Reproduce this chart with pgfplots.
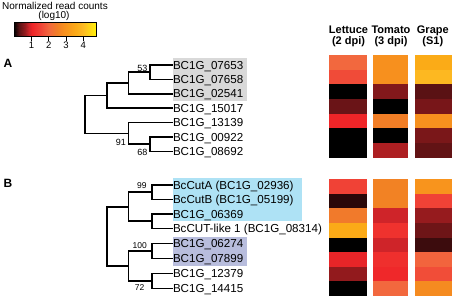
\documentclass[border=0pt]{standalone}
\usepackage{fontspec}
\setmainfont{Liberation Sans}
\usepackage{pgfplots}
\pgfplotsset{compat=1.18}
\usepackage{pgfplotstable}
\definecolor{boxgrey}{RGB}{217,217,217}
\definecolor{boxblue}{RGB}{174,226,245}
\definecolor{boxlav}{RGB}{184,189,221}
\pgfdeclareplotmark{cellL}{\pgfpathrectangle{\pgfpoint{-18.85pt}{-7.45pt}}{\pgfpoint{37.7pt}{14.9pt}}\pgfusepathqfill}
\pgfdeclareplotmark{cellT}{\pgfpathrectangle{\pgfpoint{-17.6pt}{-7.45pt}}{\pgfpoint{35.2pt}{14.9pt}}\pgfusepathqfill}
\pgfdeclareplotmark{cellG}{\pgfpathrectangle{\pgfpoint{-18.65pt}{-7.45pt}}{\pgfpoint{37.3pt}{14.9pt}}\pgfusepathqfill}
\newcommand\genefont{\fontsize{11.6}{13}\selectfont}
\newcommand\bootA{\fontsize{9}{10}\selectfont}
\newcommand\bootB{\fontsize{8.5}{10}\selectfont}
\newcommand\headfont{\fontsize{11}{12}\selectfont\bfseries}

\pgfplotstableread{
y L T G
62.6 2.0 2.9 3.6
77.2 1.62 2.9 3.95
91.8 0 0.5 0.3
106.4 0.38 0 0.45
121.0 1.05 2.5 2.9
135.6 0 0 0.46
150.2 0 0.7 0.34
}\heatA

\pgfplotstableread{
y L T G
186.6 1.5 2.6 3.0
201.2 0.14 2.6 1.5
215.8 2.4 0.85 0.6
230.4 3.58 1.25 0.4
245.0 0 0.85 0.2
259.6 1.0 1.2 1.95
274.2 0.58 1.1 1.65
288.8 0 2.0 2.8
}\heatB

\begin{document}
\begin{tikzpicture}
\useasboundingbox (0,0) rectangle (454pt,298pt);
\begin{axis}[at={(0,0)},anchor=south west,width=454pt,height=298pt,scale only axis,
  xmin=0,xmax=454,ymin=0,ymax=298,y dir=reverse,hide axis,clip=false,
  colormap={heat}{rgb255(0pt)=(0,0,0); rgb255(30pt)=(90,18,20); rgb255(60pt)=(150,27,30); rgb255(85pt)=(207,36,41); rgb255(105pt)=(239,37,40); rgb255(150pt)=(240,66,54); rgb255(200pt)=(242,104,62); rgb255(250pt)=(241,126,38); rgb255(290pt)=(247,144,30); rgb255(360pt)=(251,171,23); rgb255(400pt)=(253,186,35); rgb255(475pt)=(255,240,10)},
  point meta min=0, point meta max=4.75]

% highlight boxes
\addplot[fill=boxgrey, draw=none] coordinates {(172.7,58.2)(247.3,58.2)(247.3,100.6)(172.7,100.6)} --cycle;
\addplot[fill=boxblue, draw=none] coordinates {(172.7,177.8)(301.7,177.8)(301.7,220.8)(172.7,220.8)} --cycle;
\addplot[fill=boxlav, draw=none] coordinates {(172.7,236.8)(247.3,236.8)(247.3,265.8)(172.7,265.8)} --cycle;

% colorbar
\addplot[patch, patch type=rectangle, shader=interp, point meta=explicit] table[meta=c] {
x y c
14.2 22 0
19.375 22 0.3
19.375 36.7 0.3
14.2 36.7 0
19.375 22 0.3
24.55 22 0.6
24.55 36.7 0.6
19.375 36.7 0.3
24.55 22 0.6
28.86 22 0.85
28.86 36.7 0.85
24.55 36.7 0.6
28.86 22 0.85
32.31 22 1.05
32.31 36.7 1.05
28.86 36.7 0.85
32.31 22 1.05
40.08 22 1.5
40.08 36.7 1.5
32.31 36.7 1.05
40.08 22 1.5
48.7 22 2.0
48.7 36.7 2.0
40.08 36.7 1.5
48.7 22 2.0
57.33 22 2.5
57.33 36.7 2.5
48.7 36.7 2.0
57.33 22 2.5
64.23 22 2.9
64.23 36.7 2.9
57.33 36.7 2.5
64.23 22 2.9
76.3 22 3.6
76.3 36.7 3.6
64.23 36.7 2.9
76.3 22 3.6
83.2 22 4.0
83.2 36.7 4.0
76.3 36.7 3.6
83.2 22 4.0
96.14 22 4.75
96.14 36.7 4.75
83.2 36.7 4.0
};
\addplot[black, line width=0.8pt] coordinates {(14.2,22)(96.14,22)(96.14,36.7)(14.2,36.7)} --cycle;
\addplot[black, line width=0.8pt] coordinates {(31.45,36.7)(31.45,40.5)};
\addplot[black, line width=0.8pt] coordinates {(48.7,36.7)(48.7,40.5)};
\addplot[black, line width=0.8pt] coordinates {(65.95,36.7)(65.95,40.5)};
\addplot[black, line width=0.8pt] coordinates {(83.2,36.7)(83.2,40.5)};

% heat map
\addplot[scatter, only marks, mark=cellL, scatter/use mapped color={draw=none, fill=mapped color}, point meta=explicit] table[x expr=348.15, y=y, meta=L] {\heatA};
\addplot[scatter, only marks, mark=cellT, scatter/use mapped color={draw=none, fill=mapped color}, point meta=explicit] table[x expr=390.6, y=y, meta=T] {\heatA};
\addplot[scatter, only marks, mark=cellG, scatter/use mapped color={draw=none, fill=mapped color}, point meta=explicit] table[x expr=433.15, y=y, meta=G] {\heatA};
\addplot[scatter, only marks, mark=cellL, scatter/use mapped color={draw=none, fill=mapped color}, point meta=explicit] table[x expr=348.15, y=y, meta=L] {\heatB};
\addplot[scatter, only marks, mark=cellT, scatter/use mapped color={draw=none, fill=mapped color}, point meta=explicit] table[x expr=390.6, y=y, meta=T] {\heatB};
\addplot[scatter, only marks, mark=cellG, scatter/use mapped color={draw=none, fill=mapped color}, point meta=explicit] table[x expr=433.15, y=y, meta=G] {\heatB};

% tree A
\addplot[black, line width=1.6pt, line join=miter] coordinates {(172.7,65)(150,65)(150,79.4)(172.7,79.4)};
\addplot[black, line width=1.6pt, line join=miter] coordinates {(150,72.2)(128.3,72.2)(128.3,93.8)(172.7,93.8)};
\addplot[black, line width=1.6pt, line join=miter] coordinates {(128.3,83.0)(106.7,83.0)(106.7,108.2)(172.7,108.2)};
\addplot[black, line width=1.6pt, line join=miter] coordinates {(172.7,137)(150,137)(150,151.4)(172.7,151.4)};
\addplot[black, line width=1.6pt, line join=miter] coordinates {(172.7,122.6)(128.3,122.6)(128.3,144.2)(150,144.2)};
\addplot[black, line width=1.6pt, line join=miter] coordinates {(106.7,95.6)(85,95.6)(85,133.4)(128.3,133.4)};

% tree B
\addplot[black, line width=1.6pt, line join=miter] coordinates {(172.7,185)(151.7,185)(151.7,199.5)(172.7,199.5)};
\addplot[black, line width=1.6pt, line join=miter] coordinates {(172.7,214)(151.7,214)(151.7,228.5)(172.7,228.5)};
\addplot[black, line width=1.6pt, line join=miter] coordinates {(151.7,192.25)(128.3,192.25)(128.3,221.25)(151.7,221.25)};
\addplot[black, line width=1.6pt, line join=miter] coordinates {(172.7,243.5)(151.7,243.5)(151.7,258.3)(172.7,258.3)};
\addplot[black, line width=1.6pt, line join=miter] coordinates {(172.7,273.3)(151.7,273.3)(151.7,288.3)(172.7,288.3)};
\addplot[black, line width=1.6pt, line join=miter] coordinates {(151.7,250.9)(128.3,250.9)(128.3,280.8)(151.7,280.8)};
\addplot[black, line width=1.6pt, line join=miter] coordinates {(128.3,206.75)(106.7,206.75)(106.7,265.85)(128.3,265.85)};

% titles
\node[anchor=base, inner sep=0, font=\fontsize{10}{12}\selectfont] at (55,9) {Normalized read counts};
\node[anchor=base, inner sep=0, font=\fontsize{10}{12}\selectfont] at (54,18.5) {(log10)};
\node[anchor=base, inner sep=0, font=\fontsize{9.5}{11}\selectfont] at (31.45,48.3) {1};
\node[anchor=base, inner sep=0, font=\fontsize{9.5}{11}\selectfont] at (48.7,48.3) {2};
\node[anchor=base, inner sep=0, font=\fontsize{9.5}{11}\selectfont] at (65.95,48.3) {3};
\node[anchor=base, inner sep=0, font=\fontsize{9.5}{11}\selectfont] at (83.2,48.3) {4};

\node[anchor=base, inner sep=0, font=\headfont] at (348.5,33.3) {Lettuce};
\node[anchor=base, inner sep=0, font=\headfont] at (348.5,44.4) {(2 dpi)};
\node[anchor=base, inner sep=0, font=\headfont] at (391,33.3) {Tomato};
\node[anchor=base, inner sep=0, font=\headfont] at (391,44.4) {(3 dpi)};
\node[anchor=base, inner sep=0, font=\headfont] at (432.8,33.3) {Grape};
\node[anchor=base, inner sep=0, font=\headfont] at (432.8,44.4) {(S1)};

\node[anchor=base west, inner sep=0, font=\fontsize{12}{14}\selectfont\bfseries] at (3.5,67) {A};
\node[anchor=base west, inner sep=0, font=\fontsize{12}{14}\selectfont\bfseries] at (3.5,187.3) {B};

% gene labels A
\node[anchor=base west, inner sep=0, font=\genefont] at (172.8,69.15) {BC1G\_07653};
\node[anchor=base west, inner sep=0, font=\genefont] at (172.8,83.55) {BC1G\_07658};
\node[anchor=base west, inner sep=0, font=\genefont] at (172.8,97.95) {BC1G\_02541};
\node[anchor=base west, inner sep=0, font=\genefont] at (172.8,112.35) {BC1G\_15017};
\node[anchor=base west, inner sep=0, font=\genefont] at (172.8,126.75) {BC1G\_13139};
\node[anchor=base west, inner sep=0, font=\genefont] at (172.8,141.15) {BC1G\_00922};
\node[anchor=base west, inner sep=0, font=\genefont] at (172.8,155.55) {BC1G\_08692};
% gene labels B
\node[anchor=base west, inner sep=0, font=\genefont] at (172.8,189.15) {BcCutA (BC1G\_02936)};
\node[anchor=base west, inner sep=0, font=\genefont] at (172.8,203.65) {BcCutB (BC1G\_05199)};
\node[anchor=base west, inner sep=0, font=\genefont] at (172.8,218.15) {BC1G\_06369};
\node[anchor=base west, inner sep=0, font=\genefont] at (172.8,232.65) {BcCUT-like 1 (BC1G\_08314)};
\node[anchor=base west, inner sep=0, font=\genefont] at (172.8,247.65) {BC1G\_06274};
\node[anchor=base west, inner sep=0, font=\genefont] at (172.8,262.45) {BC1G\_07899};
\node[anchor=base west, inner sep=0, font=\genefont] at (172.8,277.45) {BC1G\_12379};
\node[anchor=base west, inner sep=0, font=\genefont] at (172.8,292.45) {BC1G\_14415};

% bootstrap values
\node[anchor=base east, inner sep=0, font=\bootA] at (147.5,71.4) {53};
\node[anchor=base east, inner sep=0, font=\bootA] at (126,145.5) {91};
\node[anchor=base east, inner sep=0, font=\bootA] at (147.5,155) {68};
\node[anchor=base east, inner sep=0, font=\bootB] at (146.8,188.5) {99};
\node[anchor=base east, inner sep=0, font=\bootB] at (147,248) {100};
\node[anchor=base east, inner sep=0, font=\bootB] at (144.5,290) {72};
\end{axis}
\end{tikzpicture}
\end{document}
